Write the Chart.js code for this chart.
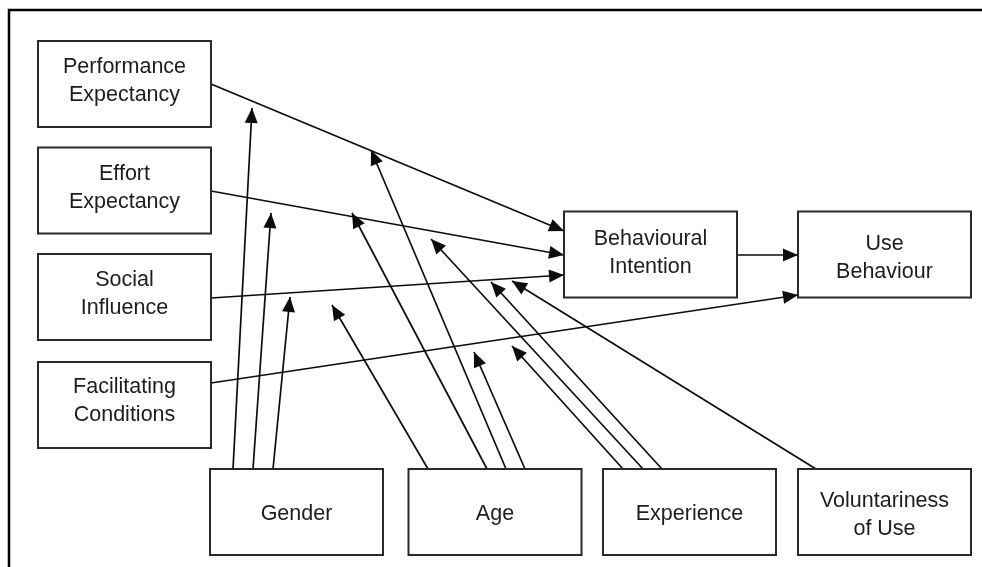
<!DOCTYPE html>
<html>
<head>
<meta charset="utf-8">
<script src="https://cdn.jsdelivr.net/npm/chart.js@4/dist/chart.umd.min.js"></script>
<style>
  html, body { margin: 0; padding: 0; background: #ffffff; }
  #wrap { width: 982px; height: 567px; position: relative; }
</style>
</head>
<body>
<div id="wrap"><canvas id="c"></canvas></div>
<script>
// ---- Diagram content (UTAUT model) ----
const nodeNames = [
  'Performance\nExpectancy', 'Effort\nExpectancy', 'Social\nInfluence', 'Facilitating\nConditions',
  'Behavioural\nIntention', 'Use\nBehaviour',
  'Gender', 'Age', 'Experience', 'Voluntariness\nof Use'
];
// node centres in diagram units
const nodeCx = [124.5, 124.5, 124.5, 124.5, 650.5, 884.5, 296.5, 495, 689.5, 884.5];
const nodeCy = [84, 190.5, 297, 405, 254.5, 254.5, 512, 512, 512, 512];

// direct paths: source -> target (right edge of source to left edge of target)
const pathFrom   = [0, 1, 2, 3, 4];
const pathTo     = [4, 4, 4, 5, 5];
const pathStartY = [84, 191, 298, 383, 255];
const pathEndY   = [231, 255, 275, 295, 255];

// moderator arrows: from top edge of a moderator box to a tip point
const modFrom   = [6, 6, 6, 7, 7, 7, 7, 8, 8, 8, 9];
const modStartX = [233, 253, 273, 428, 487, 506, 525, 623, 643, 662, 816];
const modTipX   = [252, 271, 290, 332, 352, 371, 474, 512, 431, 491, 512];
const modTipY   = [108, 213, 297, 305, 213, 150, 352, 346, 239, 282, 281];

// ---- layout / style ----
const W = 982, H = 567;
const BOX_W = 173, BOX_H = 86;
const labelShift = [-5, -4.5, -4.5, -5.5, -3.3, 1.5, 0, 0, 0, 1.5];
const FONT = '21.5px "Liberation Sans", Arial, sans-serif';
const TEXT_COLOR = '#1e1c1d';
const LINE_COLOR = '#0d0d0d';
const BOX_COLOR = '#2a2a2a';

function boxEdges(i) {
  return {
    l: nodeCx[i] - BOX_W / 2, r: nodeCx[i] + BOX_W / 2,
    t: nodeCy[i] - BOX_H / 2, b: nodeCy[i] + BOX_H / 2
  };
}

const datasets = [];

// frame (top and left rule of the cropped figure)
datasets.push({
  data: [{x: 9, y: H}, {x: 9, y: 10}, {x: W, y: 10}],
  showLine: true, borderColor: '#000', borderWidth: 2.5, pointRadius: 0,
  borderJoinStyle: 'miter', borderCapStyle: 'square', clip: false
});

// boxes
nodeNames.forEach((n, i) => {
  const e = boxEdges(i);
  datasets.push({
    data: [{x: e.l, y: e.t}, {x: e.r, y: e.t}, {x: e.r, y: e.b}, {x: e.l, y: e.b}, {x: e.l, y: e.t}],
    showLine: true, borderColor: BOX_COLOR, borderWidth: 2, pointRadius: 0,
    borderJoinStyle: 'miter', borderCapStyle: 'square', nodeIndex: i
  });
});

// direct paths
pathFrom.forEach((f, k) => {
  const s = boxEdges(f), t = boxEdges(pathTo[k]);
  datasets.push({
    data: [{x: s.r, y: pathStartY[k]}, {x: t.l, y: pathEndY[k]}],
    showLine: true, borderColor: LINE_COLOR, borderWidth: 1.7, pointRadius: 0, arrow: true
  });
});

// moderator arrows
modFrom.forEach((f, k) => {
  const s = boxEdges(f);
  datasets.push({
    data: [{x: modStartX[k], y: s.t}, {x: modTipX[k], y: modTipY[k]}],
    showLine: true, borderColor: LINE_COLOR, borderWidth: 1.7, pointRadius: 0, arrow: true
  });
});

const diagramPlugin = {
  id: 'diagram',
  afterDatasetsDraw(chart) {
    const ctx = chart.ctx;
    const xs = chart.scales.x, ys = chart.scales.y;
    // arrowheads
    chart.data.datasets.forEach((ds, di) => {
      if (!ds.arrow) return;
      const meta = chart.getDatasetMeta(di);
      const p0 = meta.data[0], p1 = meta.data[1];
      const ang = Math.atan2(p1.y - p0.y, p1.x - p0.x);
      const len = 15, half = 6.5;
      ctx.save();
      ctx.translate(p1.x, p1.y);
      ctx.rotate(ang);
      ctx.beginPath();
      ctx.moveTo(0, 0);
      ctx.lineTo(-len, -half);
      ctx.lineTo(-len, half);
      ctx.closePath();
      ctx.fillStyle = LINE_COLOR;
      ctx.fill();
      ctx.restore();
    });
    // labels
    ctx.save();
    ctx.font = FONT;
    ctx.fillStyle = TEXT_COLOR;
    ctx.textAlign = 'center';
    ctx.textBaseline = 'alphabetic';
    nodeNames.forEach((name, i) => {
      const lines = name.split('\n');
      const cx = xs.getPixelForValue(nodeCx[i]);
      const cy = ys.getPixelForValue(nodeCy[i] + labelShift[i]);
      const gap = 28.4, capHalf = 7.7;
      lines.forEach((ln, j) => {
        const off = (j - (lines.length - 1) / 2) * gap;
        ctx.fillText(ln, cx, cy + off + capHalf);
      });
    });
    ctx.restore();
  }
};

new Chart(document.getElementById('c'), {
  type: 'scatter',
  data: { datasets },
  options: {
    responsive: true,
    maintainAspectRatio: false,
    animation: false,
    events: [],
    layout: { padding: 0 },
    plugins: { legend: { display: false }, tooltip: { enabled: false }, title: { display: false } },
    elements: { line: { tension: 0 } },
    scales: {
      x: { type: 'linear', min: 0, max: W, display: false },
      y: { type: 'linear', min: 0, max: H, reverse: true, display: false }
    }
  },
  plugins: [diagramPlugin]
});
</script>
</body>
</html>
